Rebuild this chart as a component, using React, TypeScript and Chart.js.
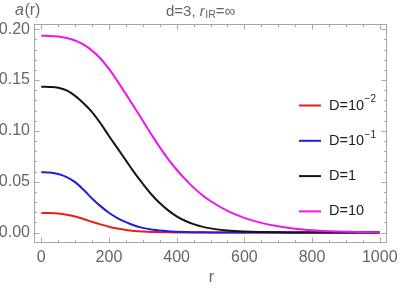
import React, { useEffect, useRef } from "react";
import { Chart, registerables } from "chart.js";

Chart.register(...registerables);

// ---- data ----
const rValues = [0, 25, 50, 75, 100, 125, 150, 175, 200, 225, 250, 275, 300, 325, 350, 375, 400, 425, 450, 475, 500, 550, 600, 650, 700, 750, 800, 850, 900, 950, 1000];
const aD001 = [0.0193, 0.0192, 0.0187, 0.0175, 0.0157, 0.0133, 0.0106, 0.008, 0.0057, 0.0039, 0.0025, 0.0016, 0.001, 0.0006, 0.0004, 0.0002, 0.0001, 0.0001, 0, 0, 0, 0, 0, 0, 0, 0, 0, 0, 0, 0, 0];
const aD01 = [0.0594, 0.059, 0.0576, 0.0546, 0.0496, 0.0421, 0.0335, 0.026, 0.0195, 0.0143, 0.0102, 0.0069, 0.0046, 0.003, 0.0019, 0.0012, 0.0008, 0.0005, 0.0003, 0.0002, 0.0001, 0, 0, 0, 0, 0, 0, 0, 0, 0, 0];
const aD1 = [0.1434, 0.1432, 0.1424, 0.1398, 0.1345, 0.1272, 0.1185, 0.1075, 0.095, 0.083, 0.071, 0.059, 0.048, 0.0377, 0.029, 0.0218, 0.016, 0.0116, 0.0083, 0.0058, 0.0041, 0.002, 0.001, 0.0005, 0.0002, 0.0001, 0, 0, 0, 0, 0];
const aD10 = [0.1937, 0.1935, 0.1929, 0.1915, 0.189, 0.1848, 0.179, 0.1712, 0.161, 0.149, 0.1362, 0.1232, 0.11, 0.0968, 0.084, 0.0722, 0.0618, 0.0525, 0.0442, 0.037, 0.031, 0.0213, 0.0144, 0.0095, 0.0061, 0.0038, 0.0023, 0.0013, 0.0007, 0.0004, 0.0002];

const seriesLabels = ["D=10⁻²", "D=10⁻¹", "D=1", "D=10"];
const legendBase = ["D=10", "D=10", "D=1", "D=10"];
const legendSup = ["−2", "−1", "", ""];
const seriesColors = ["#e5201f", "#1f1fe0", "#141414", "#ee15ee"];

const xTicks = [0, 200, 400, 600, 800, 1000];
const xTickLabels = ["0", "200", "400", "600", "800", "1000"];
const yTicks = [0, 0.05, 0.1, 0.15, 0.2];
const yTickLabels = ["0.00", "0.05", "0.10", "0.15", "0.20"];
const xMinorTicks = [50, 100, 150, 250, 300, 350, 450, 500, 550, 650, 700, 750, 850, 900, 950];
const yMinorTicks = [0.01, 0.02, 0.03, 0.04, 0.06, 0.07, 0.08, 0.09, 0.11, 0.12, 0.13, 0.14, 0.16, 0.17, 0.18, 0.19];

const FONT = "'Liberation Sans', Arial, sans-serif";
const GRAY_TEXT = "#666666";
const FRAME = "#a6a6a6";

const framePlugin = {
  id: "mmaFrame",
  afterDatasetsDraw(chart: any) {
    const { ctx, chartArea, scales } = chart;
    const xs = scales.x;
    const ys = scales.y;
    const { left, right, top, bottom } = chartArea;
    ctx.save();
    ctx.strokeStyle = FRAME;
    ctx.lineWidth = 1;
    ctx.strokeRect(left, top, right - left, bottom - top);
    const tick = (x1: number, y1: number, x2: number, y2: number) => {
      ctx.beginPath();
      ctx.moveTo(x1, y1);
      ctx.lineTo(x2, y2);
      ctx.stroke();
    };
    xTicks.forEach((v) => {
      const px = Math.round(xs.getPixelForValue(v)) + 0.5;
      tick(px, bottom, px, bottom - 5);
      tick(px, top, px, top + 5);
    });
    xMinorTicks.forEach((v) => {
      const px = Math.round(xs.getPixelForValue(v)) + 0.5;
      tick(px, bottom, px, bottom - 2.5);
      tick(px, top, px, top + 2.5);
    });
    yTicks.forEach((v) => {
      const py = Math.round(ys.getPixelForValue(v)) + 0.5;
      tick(left, py, left + 5, py);
      tick(right, py, right - 5, py);
    });
    yMinorTicks.forEach((v) => {
      const py = Math.round(ys.getPixelForValue(v)) + 0.5;
      tick(left, py, left + 2.5, py);
      tick(right, py, right - 2.5, py);
    });

    ctx.fillStyle = GRAY_TEXT;
    ctx.font = `16px ${FONT}`;
    ctx.textAlign = "center";
    ctx.textBaseline = "middle";
    xTicks.forEach((v, i) => {
      ctx.fillText(xTickLabels[i], xs.getPixelForValue(v), bottom + 15.5);
    });
    ctx.textAlign = "right";
    yTicks.forEach((v, i) => {
      ctx.fillText(yTickLabels[i], left - 4.5, ys.getPixelForValue(v));
    });

    ctx.textAlign = "center";
    ctx.fillText("r", (left + right) / 2 + 1, 278);
    ctx.textAlign = "left";
    ctx.font = `italic 16px ${FONT}`;
    ctx.fillText("a", 15, 11);
    const aw = ctx.measureText("a").width;
    ctx.font = `16px ${FONT}`;
    ctx.fillText("(r)", 15 + aw + 0.5, 11);

    ctx.font = `15px ${FONT}`;
    let tx = 166;
    const ty = 11.5;
    ctx.fillText("d=3, ", tx, ty);
    tx += ctx.measureText("d=3, ").width;
    ctx.font = `italic 15px ${FONT}`;
    ctx.fillText("r", tx, ty);
    tx += ctx.measureText("r").width + 0.5;
    ctx.font = `10.5px ${FONT}`;
    ctx.fillText("IR", tx, ty + 3.5);
    tx += ctx.measureText("IR").width;
    ctx.font = `15px ${FONT}`;
    ctx.fillText("=∞", tx, ty);

    const legendY0 = 105.5;
    const legendDy = 35.3;
    chart.data.datasets.forEach((ds: any, i: number) => {
      const y = legendY0 + i * legendDy;
      ctx.strokeStyle = ds.borderColor;
      ctx.lineWidth = 2;
      ctx.beginPath();
      ctx.moveTo(299, y);
      ctx.lineTo(321, y);
      ctx.stroke();
      ctx.fillStyle = "#1e1e1e";
      ctx.font = `14.5px ${FONT}`;
      ctx.textAlign = "left";
      ctx.textBaseline = "middle";
      ctx.fillText(legendBase[i], 329, y);
      if (legendSup[i]) {
        const w = ctx.measureText(legendBase[i]).width;
        ctx.font = `10px ${FONT}`;
        ctx.fillText(legendSup[i], 329 + w + 0.5, y - 6);
      }
    });
    ctx.restore();
  },
};

export default function App() {
  const canvasRef = useRef<HTMLCanvasElement | null>(null);

  useEffect(() => {
    const canvas = canvasRef.current;
    if (!canvas) return;
    const series = [aD001, aD01, aD1, aD10];
    const chart = new Chart(canvas, {
      type: "line",
      data: {
        datasets: series.map((arr, i) => ({
          label: seriesLabels[i],
          data: rValues.map((r, j) => ({ x: r, y: arr[j] })),
          borderColor: seriesColors[i],
          backgroundColor: seriesColors[i],
          borderWidth: 2,
          pointRadius: 0,
          fill: false,
          cubicInterpolationMode: "monotone" as const,
          order: series.length - i,
        })),
      },
      options: {
        animation: false,
        responsive: false,
        devicePixelRatio: 1,
        layout: { padding: { left: 34.5, top: 24.5, right: 20.5, bottom: 48.5 } },
        plugins: {
          legend: { display: false },
          tooltip: { enabled: false },
          title: { display: false },
        },
        scales: {
          x: { type: "linear", min: -20, max: 1020, display: false },
          y: { type: "linear", min: -0.0098, max: 0.2047, display: false },
        },
      },
      plugins: [framePlugin],
    });
    return () => chart.destroy();
  }, []);

  return (
    <div style={{ position: "absolute", left: 0, top: 0, width: 407, height: 291, background: "#fff" }}>
      <canvas ref={canvasRef} width={407} height={291} style={{ display: "block" }} />
    </div>
  );
}
